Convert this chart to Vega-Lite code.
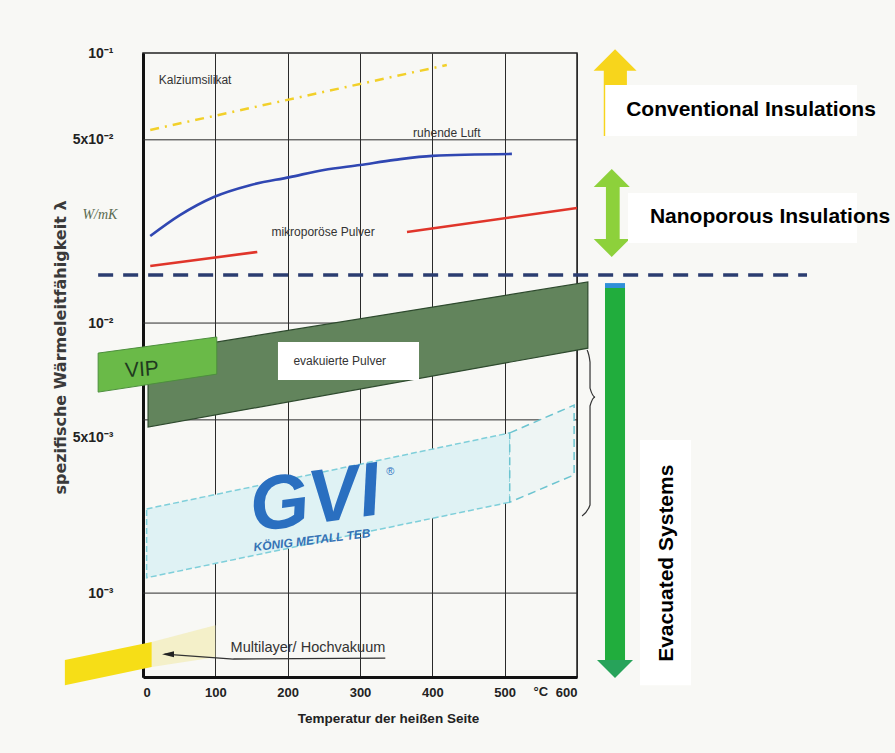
{
  "$schema": "https://vega.github.io/schema/vega-lite/v6.json",
  "width": 434,
  "height": 624,
  "autosize": {"type": "none"},
  "padding": {"left": 143, "top": 53, "right": 318, "bottom": 76},
  "background": "#f8f8f5",
  "config": {"view": {"stroke": "#222", "strokeWidth": 1.5}},
  "datasets": {
    "hgrid": [{"L": 0.0477}, {"L": 0.01}, {"L": 0.00438}, {"L": 0.001}],
    "kalz": [{"T": 10, "L": 0.0519}, {"T": 420, "L": 0.0903}],
    "luft": [{"T": 10, "L": 0.021}, {"T": 51, "L": 0.0251}, {"T": 98, "L": 0.0293}, {"T": 148, "L": 0.0324}, {"T": 203, "L": 0.0347}, {"T": 250, "L": 0.0369}, {"T": 300, "L": 0.0385}, {"T": 348, "L": 0.0402}, {"T": 400, "L": 0.0416}, {"T": 510, "L": 0.0423}],
    "mikro": [{"seg": "a", "T": 10, "L": 0.01626}, {"seg": "a", "T": 158, "L": 0.01833}, {"seg": "b", "T": 365, "L": 0.02173}, {"seg": "b", "T": 600, "L": 0.02667}],
    "evak": [{"T": 7, "L": 0.00774, "L2": 0.00412}, {"T": 615, "L": 0.01419, "L2": 0.00807}],
    "vip": [{"T": -62, "L": 0.00774, "L2": 0.00555}, {"T": 102, "L": 0.00888, "L2": 0.00647}],
    "gvi": [{"T": 5, "L": 0.00205, "L2": 0.00114}, {"T": 507, "L": 0.00392, "L2": 0.00217}],
    "gviext": [{"T": 507, "L": 0.00392, "L2": 0.00217}, {"T": 596, "L": 0.00497, "L2": 0.00274}],
    "mlfade": [{"T": 12, "L": 0.000659, "L2": 0.000532}, {"T": 100, "L": 0.000761, "L2": 0.000579}],
    "mlyellow": [{"T": -108, "L": 0.000565, "L2": 0.000456}, {"T": 12, "L": 0.000659, "L2": 0.000532}],
    "mlarrow": [{"i": 1, "T": 335, "L": 0.000574}, {"i": 2, "T": 125, "L": 0.00057}, {"i": 3, "T": 30, "L": 0.000594}],
    "mlhead": [{"T": 34.6, "L": 0.000594}],
    "navy": [{"T": -62, "T2": 918, "L": 0.01506}],
    "brace": [{"i": 1, "T": 614, "L": 0.00794}, {"i": 2, "T": 618, "L": 0.00717}, {"i": 3, "T": 618, "L": 0.00574}, {"i": 4, "T": 625, "L": 0.00532}, {"i": 5, "T": 618, "L": 0.00493}, {"i": 6, "T": 618, "L": 0.00212}, {"i": 7, "T": 607, "L": 0.00193}],
    "yshaft": [{"T": 637, "T2": 669, "L": 0.088, "L2": 0.0493}],
    "yhead": [{"T": 652.6, "L": 0.0942}],
    "lshaft": [{"T": 640, "T2": 659, "L": 0.0325, "L2": 0.02}],
    "lheadup": [{"T": 648, "L": 0.03443}],
    "lheaddown": [{"T": 648, "L": 0.01897}],
    "gshaft": [{"T": 638.7, "T2": 666.4, "L": 0.01348, "L2": 0.000555}],
    "gtop": [{"T": 638.7, "T2": 666.4, "L": 0.01406, "L2": 0.01348}],
    "ghead": [{"T": 652.5, "L": 0.000523}],
    "boxes": [{"T": 639, "T2": 987, "L": 0.0761, "L2": 0.0493}, {"T": 670.5, "T2": 987, "L": 0.0303, "L2": 0.01978}, {"T": 687, "T2": 757.6, "L": 0.00369, "L2": 0.000456}, {"T": 186.6, "T2": 381.6, "L": 0.0085, "L2": 0.00615}],
    "plotlabels": [{"T": 72, "L": 0.0794, "txt": "Kalziumsilikat"}, {"T": 420, "L": 0.0506, "txt": "ruhende Luft"}, {"T": 249, "L": 0.02173, "txt": "mikroporöse Pulver"}, {"T": 272, "L": 0.00723, "txt": "evakuierte Pulver"}],
    "unitlabel": [{"T": 550, "L": 0.000452, "txt": "°C"}],
    "bigtext": [{"T": 840.6, "L": 0.0615, "txt": "Conventional Insulations"}, {"T": 866.9, "L": 0.0247, "txt": "Nanoporous Insulations"}],
    "evtext": [{"T": 724.5, "L": 0.00129, "txt": "Evacuated Systems"}],
    "vipt": [{"T": -1.4, "L": 0.0067, "txt": "VIP"}],
    "unit": [{"T": -59.5, "L": 0.0251, "txt": "W/mK"}],
    "mltext": [{"T": 228, "L": 0.000604, "txt": "Multilayer/ Hochvakuum"}],
    "gvit": [{"T": 238, "L": 0.00221, "txt": "GVI"}],
    "gvireg": [{"T": 342, "L": 0.0028, "txt": "®"}],
    "gvisub": [{"T": 233.6, "L": 0.00157, "txt": "KÖNIG METALL TEB"}]
  },
  "layer": [
    {
      "data": {"name": "kalz"},
      "mark": {"type": "line", "color": "#f2d02a", "strokeWidth": 2.5, "strokeDash": [9, 6, 2, 6]},
      "encoding": {
        "x": {"field": "T", "type": "quantitative",
          "scale": {"domain": [0, 600], "nice": false, "zero": false},
          "axis": {"title": "Temperatur der heißen Seite", "values": [0, 50, 100, 150, 200, 250, 300, 350, 400, 450, 500, 550, 600],
            "labelExpr": "datum.value % 100 == 0 ? datum.label : ''",
            "labelOverlap": false, "labelBound": false,
            "grid": true, "gridColor": "#2a2a2a", "gridWidth": 1, "gridOpacity": 1,
            "ticks": false, "labelPadding": 9, "labelFont": "Liberation Sans", "labelFontSize": 13, "labelFontWeight": "bold", "labelColor": "#222",
            "domainColor": "#111", "domainWidth": 3,
            "titleFont": "Liberation Sans", "titleFontSize": 13.5, "titleFontWeight": "bold", "titleColor": "#222",
            "titleX": 245, "titleY": 41, "titleBaseline": "middle"}},
        "y": {"field": "L", "type": "quantitative",
          "scale": {"type": "log", "domain": [0.000489, 0.1], "nice": false, "zero": false},
          "axis": {"title": "spezifische Wärmeleitfähigkeit λ", "values": [0.1, 0.0477, 0.01, 0.00378, 0.001],
            "labelExpr": "datum.value >= 0.09 ? '10⁻¹' : (datum.value > 0.04 ? '5x10⁻²' : (datum.value > 0.009 ? '10⁻²' : (datum.value > 0.003 ? '5x10⁻³' : '10⁻³')))",
            "labelOverlap": false,
            "grid": false, "ticks": false, "labelPadding": 30, "labelFont": "Liberation Sans", "labelFontSize": 14, "labelFontWeight": "bold", "labelColor": "#222",
            "domainColor": "#111", "domainWidth": 3,
            "titleFont": "DejaVu Sans", "titleFontSize": 16, "titleFontWeight": "bold", "titleColor": "#3a3a3a",
            "titleX": -83, "titleY": 294, "titleBaseline": "middle", "titleAngle": -90}}
      }
    },
    {
      "data": {"name": "hgrid"},
      "mark": {"type": "rule", "color": "#2a2a2a", "strokeWidth": 1},
      "encoding": {"y": {"field": "L", "type": "quantitative"}}
    },
    {
      "data": {"name": "luft"},
      "mark": {"type": "line", "color": "#3047b2", "strokeWidth": 2.6, "interpolate": "monotone"},
      "encoding": {"x": {"field": "T", "type": "quantitative"}, "y": {"field": "L", "type": "quantitative"}}
    },
    {
      "data": {"name": "mikro"},
      "mark": {"type": "line", "color": "#e0352a", "strokeWidth": 2.6},
      "encoding": {"x": {"field": "T", "type": "quantitative"}, "y": {"field": "L", "type": "quantitative"}, "detail": {"field": "seg"}}
    },
    {
      "data": {"name": "evak"},
      "mark": {"type": "area", "fill": "#62845c", "stroke": "#2e4a2e", "strokeWidth": 1.2},
      "encoding": {"x": {"field": "T", "type": "quantitative"}, "y": {"field": "L", "type": "quantitative"}, "y2": {"field": "L2"}}
    },
    {
      "data": {"name": "gvi"},
      "mark": {"type": "area", "fill": "#dff2f4", "stroke": "#7fcfda", "strokeWidth": 1.5, "strokeDash": [6, 3]},
      "encoding": {"x": {"field": "T", "type": "quantitative"}, "y": {"field": "L", "type": "quantitative"}, "y2": {"field": "L2"}}
    },
    {
      "data": {"name": "gviext"},
      "mark": {"type": "area", "fill": "#eef5f4", "stroke": "#6cc4d0", "strokeWidth": 1.5, "strokeDash": [8, 5]},
      "encoding": {"x": {"field": "T", "type": "quantitative"}, "y": {"field": "L", "type": "quantitative"}, "y2": {"field": "L2"}}
    },
    {
      "data": {"name": "mlfade"},
      "mark": {"type": "area", "fill": "#f3eec4", "opacity": 0.9},
      "encoding": {"x": {"field": "T", "type": "quantitative"}, "y": {"field": "L", "type": "quantitative"}, "y2": {"field": "L2"}}
    },
    {
      "data": {"name": "mlyellow"},
      "mark": {"type": "area", "fill": "#f6de17"},
      "encoding": {"x": {"field": "T", "type": "quantitative"}, "y": {"field": "L", "type": "quantitative"}, "y2": {"field": "L2"}}
    },
    {
      "data": {"name": "vip"},
      "mark": {"type": "area", "fill": "#6aba48", "stroke": "#4d8f3d", "strokeWidth": 1},
      "encoding": {"x": {"field": "T", "type": "quantitative"}, "y": {"field": "L", "type": "quantitative"}, "y2": {"field": "L2"}}
    },
    {
      "data": {"name": "navy"},
      "mark": {"type": "rule", "color": "#2b3d70", "strokeWidth": 3.5, "strokeDash": [15, 10]},
      "encoding": {"x": {"field": "T", "type": "quantitative"}, "x2": {"field": "T2"}, "y": {"field": "L", "type": "quantitative"}}
    },
    {
      "data": {"name": "brace"},
      "mark": {"type": "line", "color": "#333", "strokeWidth": 1.2, "interpolate": "monotone"},
      "encoding": {"x": {"field": "T", "type": "quantitative"}, "y": {"field": "L", "type": "quantitative"}, "order": {"field": "i"}}
    },
    {
      "data": {"name": "mlarrow"},
      "mark": {"type": "line", "color": "#333", "strokeWidth": 1.3},
      "encoding": {"x": {"field": "T", "type": "quantitative"}, "y": {"field": "L", "type": "quantitative"}, "order": {"field": "i"}}
    },
    {
      "data": {"name": "mlhead"},
      "mark": {"type": "point", "shape": "M1,-0.5L-1,0L1,0.5Z", "filled": true, "size": 144, "color": "#222", "opacity": 1},
      "encoding": {"x": {"field": "T", "type": "quantitative"}, "y": {"field": "L", "type": "quantitative"}}
    },
    {
      "data": {"name": "yshaft"},
      "mark": {"type": "rect", "color": "#f7d51c"},
      "encoding": {"x": {"field": "T", "type": "quantitative"}, "x2": {"field": "T2"}, "y": {"field": "L", "type": "quantitative"}, "y2": {"field": "L2"}}
    },
    {
      "data": {"name": "yhead"},
      "mark": {"type": "point", "shape": "M-1,0.5L0,-0.5L1,0.5Z", "filled": true, "size": 1849, "color": "#f7d51c", "opacity": 1},
      "encoding": {"x": {"field": "T", "type": "quantitative"}, "y": {"field": "L", "type": "quantitative"}}
    },
    {
      "data": {"name": "lshaft"},
      "mark": {"type": "rect", "color": "#8dd13b"},
      "encoding": {"x": {"field": "T", "type": "quantitative"}, "x2": {"field": "T2"}, "y": {"field": "L", "type": "quantitative"}, "y2": {"field": "L2"}}
    },
    {
      "data": {"name": "lheadup"},
      "mark": {"type": "point", "shape": "M-1,0.5L0,-0.5L1,0.5Z", "filled": true, "size": 1296, "color": "#8dd13b", "opacity": 1},
      "encoding": {"x": {"field": "T", "type": "quantitative"}, "y": {"field": "L", "type": "quantitative"}}
    },
    {
      "data": {"name": "lheaddown"},
      "mark": {"type": "point", "shape": "M-1,-0.5L0,0.5L1,-0.5Z", "filled": true, "size": 1296, "color": "#8dd13b", "opacity": 1},
      "encoding": {"x": {"field": "T", "type": "quantitative"}, "y": {"field": "L", "type": "quantitative"}}
    },
    {
      "data": {"name": "gshaft"},
      "mark": {"type": "rect", "color": "#21ad3d"},
      "encoding": {"x": {"field": "T", "type": "quantitative"}, "x2": {"field": "T2"}, "y": {"field": "L", "type": "quantitative"}, "y2": {"field": "L2"}}
    },
    {
      "data": {"name": "gtop"},
      "mark": {"type": "rect", "color": "#2f8fd8"},
      "encoding": {"x": {"field": "T", "type": "quantitative"}, "x2": {"field": "T2"}, "y": {"field": "L", "type": "quantitative"}, "y2": {"field": "L2"}}
    },
    {
      "data": {"name": "ghead"},
      "mark": {"type": "point", "shape": "M-1,-0.5L0,0.5L1,-0.5Z", "filled": true, "size": 1296, "color": "#27a35a", "opacity": 1},
      "encoding": {"x": {"field": "T", "type": "quantitative"}, "y": {"field": "L", "type": "quantitative"}}
    },
    {
      "data": {"name": "boxes"},
      "mark": {"type": "rect", "color": "#ffffff"},
      "encoding": {"x": {"field": "T", "type": "quantitative"}, "x2": {"field": "T2"}, "y": {"field": "L", "type": "quantitative"}, "y2": {"field": "L2"}}
    },
    {
      "data": {"name": "plotlabels"},
      "mark": {"type": "text", "font": "Liberation Sans", "fontSize": 12, "color": "#333", "align": "center", "baseline": "middle"},
      "encoding": {"x": {"field": "T", "type": "quantitative"}, "y": {"field": "L", "type": "quantitative"}, "text": {"field": "txt"}}
    },
    {
      "data": {"name": "unitlabel"},
      "mark": {"type": "text", "font": "Liberation Sans", "fontSize": 13, "fontWeight": "bold", "color": "#222", "align": "center", "baseline": "top"},
      "encoding": {"x": {"field": "T", "type": "quantitative"}, "y": {"field": "L", "type": "quantitative"}, "text": {"field": "txt"}}
    },
    {
      "data": {"name": "bigtext"},
      "mark": {"type": "text", "font": "Liberation Sans", "fontSize": 21, "fontWeight": "bold", "color": "#000", "align": "center", "baseline": "middle"},
      "encoding": {"x": {"field": "T", "type": "quantitative"}, "y": {"field": "L", "type": "quantitative"}, "text": {"field": "txt"}}
    },
    {
      "data": {"name": "evtext"},
      "mark": {"type": "text", "font": "Liberation Sans", "fontSize": 21, "fontWeight": "bold", "color": "#000", "align": "center", "baseline": "middle", "angle": 270},
      "encoding": {"x": {"field": "T", "type": "quantitative"}, "y": {"field": "L", "type": "quantitative"}, "text": {"field": "txt"}}
    },
    {
      "data": {"name": "vipt"},
      "mark": {"type": "text", "font": "Liberation Sans", "fontSize": 21, "color": "#1f3a1f", "align": "center", "baseline": "middle", "angle": 356},
      "encoding": {"x": {"field": "T", "type": "quantitative"}, "y": {"field": "L", "type": "quantitative"}, "text": {"field": "txt"}}
    },
    {
      "data": {"name": "unit"},
      "mark": {"type": "text", "font": "Liberation Serif", "fontSize": 14, "fontStyle": "italic", "color": "#5a6b50", "align": "center", "baseline": "middle"},
      "encoding": {"x": {"field": "T", "type": "quantitative"}, "y": {"field": "L", "type": "quantitative"}, "text": {"field": "txt"}}
    },
    {
      "data": {"name": "mltext"},
      "mark": {"type": "text", "font": "Liberation Sans", "fontSize": 14.5, "color": "#333", "align": "center", "baseline": "alphabetic"},
      "encoding": {"x": {"field": "T", "type": "quantitative"}, "y": {"field": "L", "type": "quantitative"}, "text": {"field": "txt"}}
    },
    {
      "data": {"name": "gvit"},
      "mark": {"type": "text", "font": "Liberation Sans", "fontSize": 76, "fontWeight": "bold", "fontStyle": "italic", "color": "#2a6fc0", "align": "center", "baseline": "middle", "angle": 352},
      "encoding": {"x": {"field": "T", "type": "quantitative"}, "y": {"field": "L", "type": "quantitative"}, "text": {"field": "txt"}}
    },
    {
      "data": {"name": "gvireg"},
      "mark": {"type": "text", "font": "Liberation Sans", "fontSize": 11, "color": "#2a6fc0", "align": "center", "baseline": "middle"},
      "encoding": {"x": {"field": "T", "type": "quantitative"}, "y": {"field": "L", "type": "quantitative"}, "text": {"field": "txt"}}
    },
    {
      "data": {"name": "gvisub"},
      "mark": {"type": "text", "font": "Liberation Sans", "fontSize": 12, "fontWeight": "bold", "fontStyle": "italic", "color": "#3572b5", "align": "center", "baseline": "middle", "angle": 353},
      "encoding": {"x": {"field": "T", "type": "quantitative"}, "y": {"field": "L", "type": "quantitative"}, "text": {"field": "txt"}}
    }
  ]
}
